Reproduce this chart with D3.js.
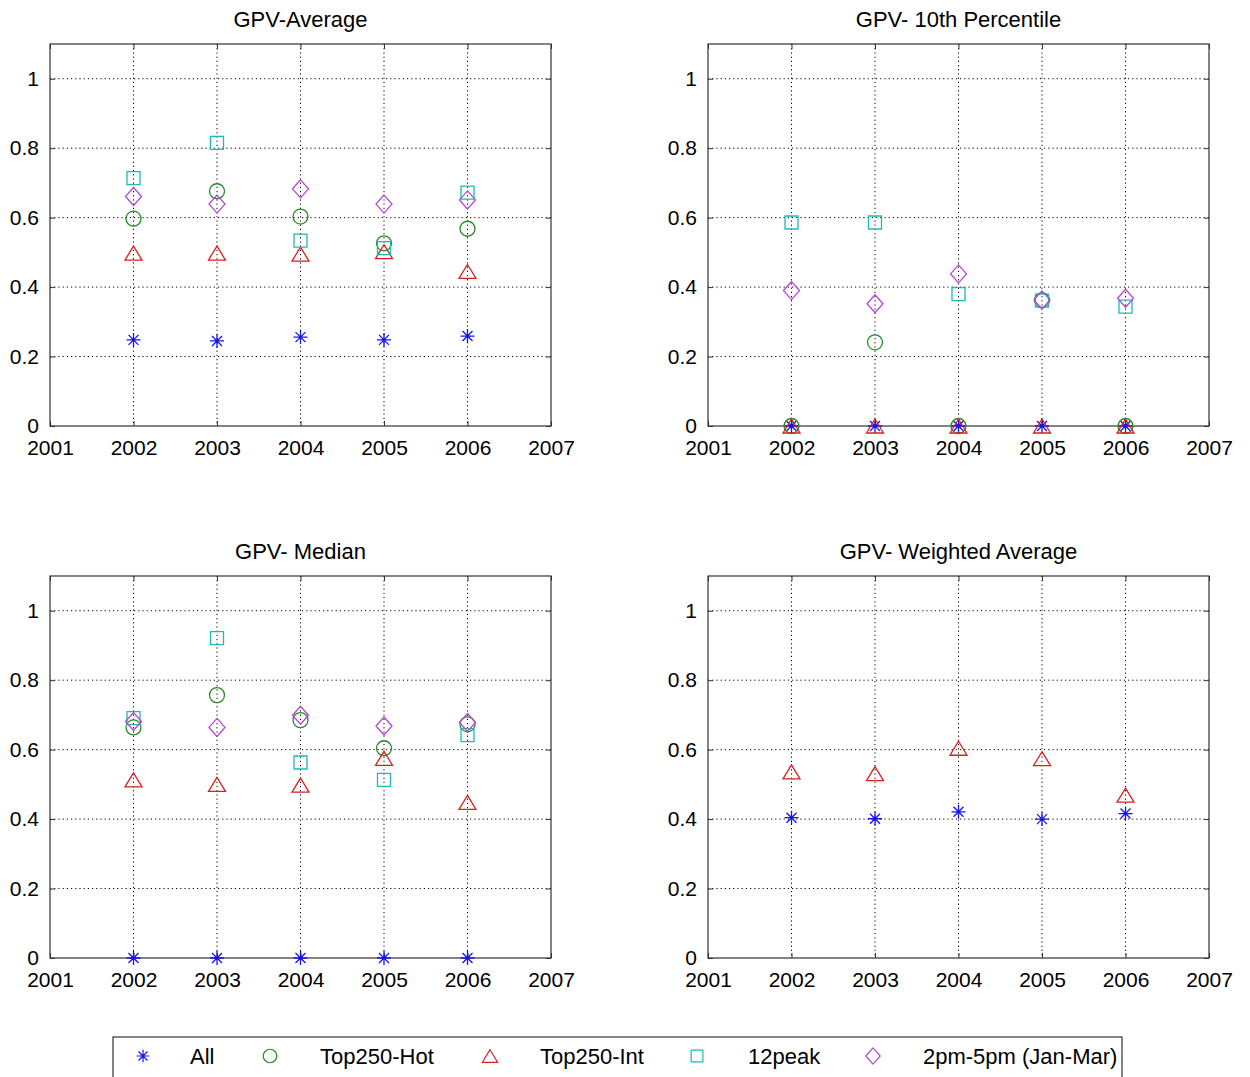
<!DOCTYPE html>
<html>
<head>
<meta charset="utf-8">
<script src="https://cdn.jsdelivr.net/npm/d3@7"></script>
<style>
    body { margin: 0; background: #fff; }
    text { font-family: "Liberation Sans", Arial, sans-serif; fill: #000; }
</style>
</head>
<body>
<div id="chart"></div>
<script>
const years = [2002, 2003, 2004, 2005, 2006];
const xTicks = [2001, 2002, 2003, 2004, 2005, 2006, 2007];
const yTicks = [0, 0.2, 0.4, 0.6, 0.8, 1];
const seriesNames = ["All", "Top250-Hot", "Top250-Int", "12peak", "2pm-5pm (Jan-Mar)"];
const panelTitles = ["GPV-Average", "GPV- 10th Percentile", "GPV- Median", "GPV- Weighted Average"];

// GPV-Average
const avgAll = [0.248, 0.245, 0.256, 0.248, 0.259];
const avgHot = [0.597, 0.676, 0.603, 0.526, 0.568];
const avgInt = [0.498, 0.498, 0.495, 0.502, 0.445];
const avgPeak = [0.714, 0.815, 0.534, 0.512, 0.672];
const avgAfternoon = [0.661, 0.639, 0.683, 0.639, 0.651];

// GPV- 10th Percentile
const p10All = [0, 0, 0, 0, 0];
const p10Hot = [0, 0.241, 0, 0.362, 0];
const p10Int = [0, 0, 0, 0, 0];
const p10Peak = [0.586, 0.586, 0.380, 0.361, 0.344];
const p10Afternoon = [0.390, 0.352, 0.438, 0.363, 0.368];

// GPV- Median
const medAll = [0, 0, 0, 0, 0];
const medHot = [0.664, 0.757, 0.685, 0.604, 0.673];
const medInt = [0.513, 0.500, 0.498, 0.575, 0.448];
const medPeak = [0.691, 0.921, 0.563, 0.513, 0.642];
const medAfternoon = [0.681, 0.664, 0.699, 0.668, 0.678];

// GPV- Weighted Average (only two series plotted)
const wAll = [0.404, 0.401, 0.421, 0.400, 0.416];
const wInt = [0.536, 0.531, 0.604, 0.574, 0.469];

const panelSeries = [
    [avgAll, avgHot, avgInt, avgPeak, avgAfternoon],
    [p10All, p10Hot, p10Int, p10Peak, p10Afternoon],
    [medAll, medHot, medInt, medPeak, medAfternoon],
    [wAll, null, wInt, null, null]
];

const colors = ["#1414e6", "#2a8a2a", "#d42222", "#1fb8b8", "#b347d6"];
const shapes = ["star", "circle", "triangle", "square", "diamond"];

const width = 1250, height = 1077;
const panelW = 501, panelH = 382;
const panelPos = [
    {x: 50, y: 44}, {x: 708, y: 44},
    {x: 50, y: 576}, {x: 708, y: 576}
];

const markerPath = (shape, s) => {
    switch (shape) {
        case "star":
            return `M0,${-7 * s}V${7 * s}M${-7 * s},0H${7 * s}M${-5 * s},${-5 * s}L${5 * s},${5 * s}M${-5 * s},${5 * s}L${5 * s},${-5 * s}`;
        case "triangle":
            return `M0,${-7 * s}L${8.5 * s},${7 * s}H${-8.5 * s}Z`;
        case "square":
            return `M${-6.5 * s},${-6.5 * s}H${6.5 * s}V${6.5 * s}H${-6.5 * s}Z`;
        case "diamond":
            return `M0,${-9 * s}L${8 * s},0L0,${9 * s}L${-8 * s},0Z`;
        default:
            return `M${7.5 * s},0A${7.5 * s},${7.5 * s} 0 1,1 ${-7.5 * s},0A${7.5 * s},${7.5 * s} 0 1,1 ${7.5 * s},0Z`;
    }
};

const svg = d3.select("#chart").append("svg")
    .attr("width", width)
    .attr("height", height);

const x = d3.scaleLinear().domain([2001, 2007]).range([0, panelW]);
const y = d3.scaleLinear().domain([0, 1.1]).range([panelH, 0]);

panelPos.forEach((pos, i) => {
    const g = svg.append("g").attr("transform", `translate(${pos.x},${pos.y})`);

    // dotted grid
    g.selectAll(".vgrid").data(years).enter().append("line")
        .attr("x1", (d) => x(d)).attr("x2", (d) => x(d))
        .attr("y1", 0).attr("y2", panelH)
        .attr("stroke", "#000").attr("stroke-width", 1)
        .attr("stroke-dasharray", "1.2,3");
    g.selectAll(".hgrid").data(yTicks.filter((d) => d > 0)).enter().append("line")
        .attr("x1", 0).attr("x2", panelW)
        .attr("y1", (d) => y(d)).attr("y2", (d) => y(d))
        .attr("stroke", "#000").attr("stroke-width", 1)
        .attr("stroke-dasharray", "1.2,3");

    // axes with inward ticks
    const xAxis = g.append("g").attr("transform", `translate(0,${panelH})`)
        .call(d3.axisBottom(x).tickValues(xTicks).tickFormat(d3.format("d")).tickSizeInner(-5).tickSizeOuter(0).tickPadding(14));
    const yAxis = g.append("g")
        .call(d3.axisLeft(y).tickValues(yTicks).tickFormat((d) => d === 0 || d === 1 ? d : d3.format(".1f")(d)).tickSizeInner(-5).tickSizeOuter(0).tickPadding(11));
    g.append("g").call(d3.axisTop(x).tickValues(xTicks).tickFormat("").tickSizeInner(-5).tickSizeOuter(0));
    g.append("g").attr("transform", `translate(${panelW},0)`)
        .call(d3.axisRight(y).tickValues(yTicks).tickFormat("").tickSizeInner(-5).tickSizeOuter(0));

    g.selectAll(".domain").remove();
    g.selectAll(".tick line").attr("stroke", "#333");
    xAxis.selectAll("text").style("font-size", "21px").attr("fill", "#000");
    yAxis.selectAll("text").style("font-size", "21px").attr("fill", "#000");

    g.append("rect")
        .attr("width", panelW).attr("height", panelH)
        .attr("fill", "none").attr("stroke", "#333").attr("stroke-width", 1.2);

    g.append("text")
        .attr("x", panelW / 2).attr("y", -17)
        .attr("text-anchor", "middle")
        .style("font-size", "22px")
        .text(panelTitles[i]);

    panelSeries[i].forEach((values, k) => {
        if (!values) return;
        g.selectAll(`.m${k}`).data(values).enter().append("path")
            .attr("transform", (d, j) => `translate(${x(years[j])},${y(d)})`)
            .attr("d", markerPath(shapes[k], 1))
            .attr("fill", "none")
            .attr("stroke", colors[k])
            .attr("stroke-width", 1.3);
    });
});

// legend
const legend = svg.append("g");
legend.append("rect")
    .attr("x", 113).attr("y", 1037)
    .attr("width", 1009).attr("height", 60)
    .attr("fill", "#fff").attr("stroke", "#333").attr("stroke-width", 1.2);

const legendMarkerX = [143, 270, 490, 697, 873];
const legendTextX = [190, 320, 540, 748, 923];
seriesNames.forEach((name, k) => {
    legend.append("path")
        .attr("transform", `translate(${legendMarkerX[k]},1056)`)
        .attr("d", markerPath(shapes[k], 0.9))
        .attr("fill", "none")
        .attr("stroke", colors[k])
        .attr("stroke-width", 1.2);
    legend.append("text")
        .attr("x", legendTextX[k]).attr("y", 1064)
        .style("font-size", "22px")
        .text(name);
});
</script>
</body>
</html>
